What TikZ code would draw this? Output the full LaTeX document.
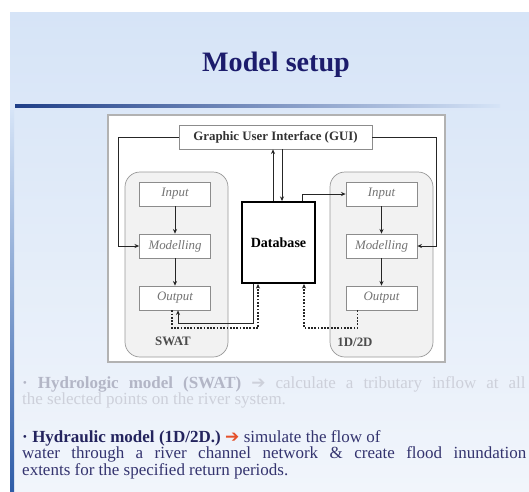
\documentclass[tikz,border=0pt]{standalone}
\usepackage{fontspec}
\setmainfont{Liberation Serif}
\newfontfamily\symfont{DejaVu Sans}
\usetikzlibrary{arrows.meta}
\definecolor{slidetop}{HTML}{D6E4F7}
\definecolor{slidebot}{HTML}{F1F5FB}
\definecolor{barblue}{HTML}{2F5DA8}
\definecolor{linedark}{HTML}{1F3F88}
\definecolor{navy}{HTML}{1C1C6C}
\definecolor{textnavy}{HTML}{34346F}
\definecolor{boldnavy}{HTML}{24245E}
\definecolor{fadebold}{HTML}{B3B6C6}
\definecolor{fadetext}{HTML}{CDD0DA}
\definecolor{arrowred}{HTML}{E5502A}
\definecolor{grpfill}{HTML}{F2F2F2}

\begin{document}
\begin{tikzpicture}[x=0.03cm, y=-0.03cm,
  box/.style={draw=black!45, fill=white, line width=0.6pt, minimum width=2.13cm, minimum height=0.72cm, inner sep=0pt, font=\fontsize{11}{13}\selectfont\itshape, text=black!55},
  grp/.style={draw=black!40, fill=grpfill, line width=0.6pt, rounded corners=0.45cm},
  link/.style={draw=black!85, line width=0.7pt, -{Stealth[length=4pt,width=3.5pt]}},
  dotlink/.style={link, line width=0.9pt, dash pattern=on 1.5pt off 1.3pt},
  grplbl/.style={font=\fontsize{11}{13}\selectfont\bfseries, text=black!70},
  bodytext/.style={anchor=base west, inner sep=0pt, font=\fontsize{14.5}{16}\selectfont}]

\useasboundingbox (0,0) rectangle (529,491);

%slide background
\fill[white] (0,0) rectangle (529,491);
\shade[top color=slidetop, bottom color=slidebot] (10,12) rectangle (529,491);
\shade[top color=slidetop, bottom color=barblue] (10,110) rectangle (14,491);
\shade[left color=linedark, right color=slidetop] (15,104) rectangle (500,107);

\node[font=\fontsize{24}{28}\selectfont\bfseries, text=navy] (title) at (276,65) {Model setup};

%figure frame
\draw[draw=black!30, line width=1.5pt, fill=white] (108,115) rectangle (445,362);

%groups
\draw[grp] (125,172) rectangle (228,357);
\draw[grp] (330,172) rectangle (433,357);
\node[grplbl] (swatlbl) at (173,341) {SWAT};
\node[grplbl] (hydlbl) at (355,342) {1D/2D};

%boxes
\node[box, minimum width=5.79cm, font=\fontsize{11}{13}\selectfont\bfseries, text=black!80] (gui) at (275.5,137) {Graphic User Interface (GUI)};
\node[box] (sin) at (175,194) {Input};
\node[box] (smod) at (175,246) {Modelling};
\node[box] (sout) at (175,298) {Output};
\node[box] (hin) at (381.5,194) {Input};
\node[box] (hmod) at (381.5,246) {Modelling};
\node[box] (hout) at (381.5,298) {Output};
\node[draw=black, line width=1.6pt, fill=white, minimum width=2.19cm, minimum height=2.43cm, font=\fontsize{12}{14}\selectfont\bfseries] (db) at (278.5,242.5) {Database};

%links to the gui
\coordinate (lbend) at (118,137);
\coordinate (rbend) at (436,137);
\draw[link] (gui.west) -- (lbend) |- (smod.west);
\draw[link] (gui.east) -- (rbend) |- (hmod.east);
\coordinate (dbup) at ([xshift=-0.165cm]db.north);
\coordinate (dbdown) at ([xshift=0.105cm]db.north);
\coordinate (dbright) at ([xshift=0.72cm]db.north);
\draw[link] (dbup) -- (dbup |- gui.south);
\draw[link] (dbdown |- gui.south) -- (dbdown);
\draw[link] (dbright) |- (hin.west);

%links inside the models
\draw[link] (sin) -- (smod);
\draw[link] (smod) -- (sout);
\draw[link] (hin) -- (hmod);
\draw[link] (hmod) -- (hout);

%links below the database
\coordinate (midrun) at (0,323);
\coordinate (lowrun) at (0,328);
\coordinate (dbsa) at ([xshift=-0.765cm]db.south);
\coordinate (dbsb) at ([xshift=-0.615cm]db.south);
\coordinate (dbsc) at ([xshift=0.765cm]db.south);
\coordinate (soa) at ([xshift=0.09cm]sout.south);
\coordinate (sob) at ([xshift=-0.09cm]sout.south);
\coordinate (hoa) at ([xshift=-0.72cm]hout.south);
\draw[link] (dbsa) -- (dbsa |- midrun) -| (soa);
\draw[dotlink] (sob) -- (sob |- lowrun) -| (dbsb);
\draw[dotlink] (hoa) -- (hoa |- lowrun) -| (dbsc);

%text below
\node[bodytext, text=fadetext] (hydro) at (22,388) {\makebox[15.1cm][s]{\textcolor{fadebold}{\bfseries · Hydrologic model (SWAT)} {\symfont ➔} calculate a tributary inflow at all}};
\node[bodytext, text=fadetext] (hydrob) at (22,404) {the selected points on the river system.};
\node[bodytext, text=textnavy] (hydra) at (22,442) {\makebox[10.75cm][s]{\textcolor{boldnavy}{\bfseries · Hydraulic model (1D/2D.)} \textcolor{arrowred}{\symfont ➔} simulate the flow of}};
\node[bodytext, text=textnavy] (hydrab) at (22,458) {\makebox[15.12cm][s]{water through a river channel network \& create flood inundation}};
\node[bodytext, text=textnavy] (hydrac) at (22,475) {extents for the specified return periods.};

\end{tikzpicture}
\end{document}
